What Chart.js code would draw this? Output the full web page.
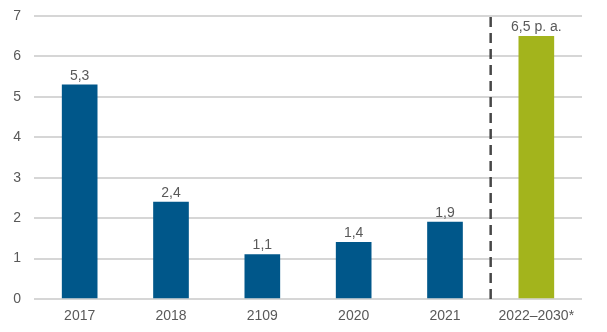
<!DOCTYPE html>
<html>
<head>
<meta charset="utf-8">
<script src="https://cdn.jsdelivr.net/npm/chart.js@4/dist/chart.umd.min.js"></script>
<style>
  html, body { margin: 0; padding: 0; background: #fff; }
  #wrap { width: 607px; height: 332px; }
</style>
</head>
<body>
<div id="wrap"><canvas id="chart"></canvas></div>
<script>
// Chart data
const categories = ['2017', '2018', '2109', '2020', '2021', '2022–2030*'];
const values = [5.3, 2.4, 1.1, 1.4, 1.9, 6.5];
const valueLabels = ['5,3', '2,4', '1,1', '1,4', '1,9', '6,5 p. a.'];
const barColors = ['#00578a', '#00578a', '#00578a', '#00578a', '#00578a', '#a3b41c'];
const yTicks = [0, 1, 2, 3, 4, 5, 6, 7];

const textColor = '#595959';
const fontFamily = '"Liberation Sans", Arial, sans-serif';

// value labels above the bars
const valueLabelPlugin = {
    id: 'valueLabels',
    afterDatasetsDraw(chart) {
        const ctx = chart.ctx;
        const meta = chart.getDatasetMeta(0);
        ctx.save();
        ctx.font = '14px ' + fontFamily;
        ctx.fillStyle = textColor;
        ctx.textAlign = 'center';
        ctx.textBaseline = 'bottom';
        meta.data.forEach((bar, i) => {
            ctx.fillText(valueLabels[i], bar.x, bar.y - 2);
        });
        ctx.restore();
    }
};

// dashed separator between actuals and forecast
const separatorPlugin = {
    id: 'separator',
    afterDatasetsDraw(chart) {
        const x = chart.scales.x;
        const px = (x.getPixelForValue(4) + x.getPixelForValue(5)) / 2;
        const ctx = chart.ctx;
        ctx.save();
        ctx.strokeStyle = '#474747';
        ctx.lineWidth = 2.5;
        ctx.setLineDash([10, 6]);
        ctx.beginPath();
        ctx.moveTo(px, chart.chartArea.top + 1);
        ctx.lineTo(px, chart.chartArea.bottom + 4);
        ctx.stroke();
        ctx.restore();
    }
};

const ctx = document.getElementById('chart').getContext('2d');
const chart = new Chart(ctx, {
    type: 'bar',
    data: {
        labels: categories,
        datasets: [{
            data: values,
            backgroundColor: barColors,
            barThickness: 35
        }]
    },
    options: {
        responsive: true,
        maintainAspectRatio: false,
        animation: false,
        layout: { padding: { top: 16, right: 25, left: 0, bottom: 0 } },
        plugins: {
            legend: { display: false },
            tooltip: { enabled: false }
        },
        scales: {
            x: {
                grid: { display: false, drawTicks: false },
                border: { display: false },
                ticks: {
                    color: textColor,
                    font: { family: fontFamily, size: 14 },
                    padding: 9,
                    maxRotation: 0
                },
                afterFit(scale) {
                    scale.height = 33;
                    scale.paddingLeft = 0;
                    scale.paddingRight = 0;
                }
            },
            y: {
                min: 0,
                max: 7,
                afterBuildTicks(scale) {
                    scale.ticks = yTicks.map(v => ({ value: v }));
                },
                grid: { color: '#d6d6d6', lineWidth: 2, drawTicks: false },
                border: { display: false },
                ticks: {
                    color: textColor,
                    font: { family: fontFamily, size: 14 },
                    padding: 13
                },
                afterFit(scale) {
                    scale.width = 34;
                    scale.paddingTop = 0;
                    scale.paddingBottom = 0;
                }
            }
        }
    },
    plugins: [valueLabelPlugin, separatorPlugin]
});
</script>
</body>
</html>
